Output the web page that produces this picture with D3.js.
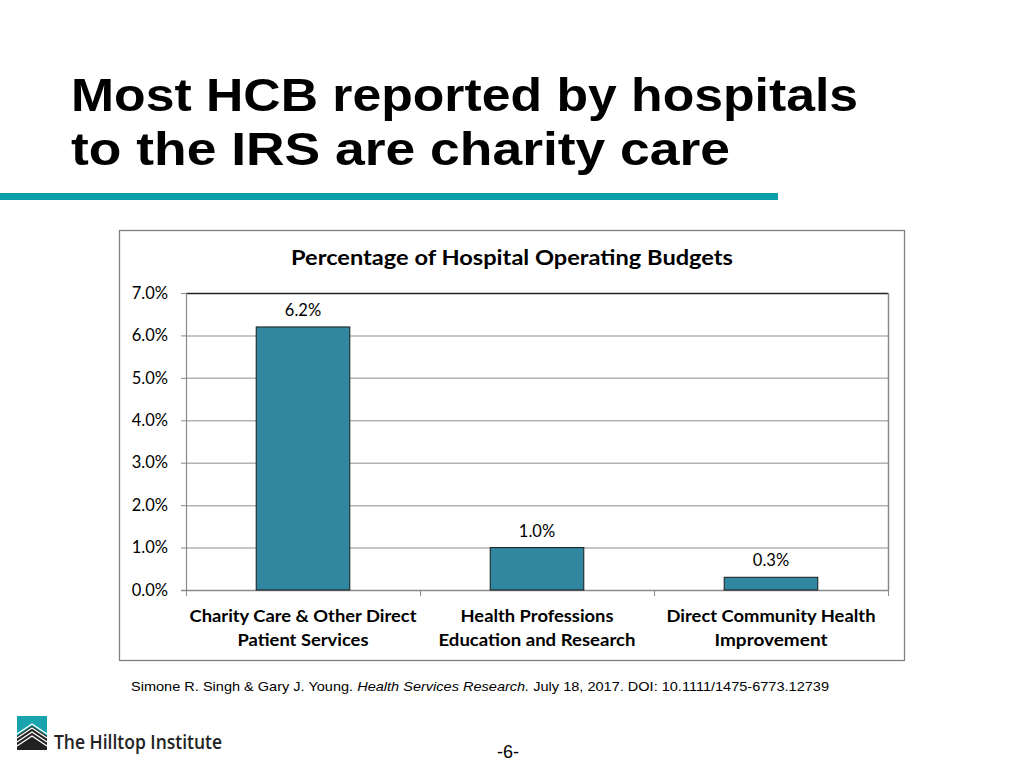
<!DOCTYPE html>
<html><head><meta charset="utf-8">
<script src="https://cdn.jsdelivr.net/npm/d3@7/dist/d3.min.js"></script>
<style>html,body{margin:0;padding:0;background:#fff;}</style>
</head><body>
<svg id="c" width="1024" height="768"></svg>
<script>
const categories = [["Charity Care & Other Direct","Patient Services"],["Health Professions","Education and Research"],["Direct Community Health","Improvement"]];
const values = [6.2, 1.0, 0.3];
const valueLabels = ["6.2%","1.0%","0.3%"];
const yTicks = [0,1,2,3,4,5,6,7];
const chartTitle = "Percentage of Hospital Operating Budgets";
const slideTitle = ["Most HCB reported by hospitals","to the IRS are charity care"];

const svg = d3.select("#c");
const cal = "Lato, 'Open Sans', sans-serif";
const catWidths = [[227,131],[153,197],[209,113]];

// slide title
svg.selectAll("text.st").data(slideTitle).join("text")
  .attr("x", 71).attr("y", (d,i)=>111+i*54)
  .attr("font-family","'Liberation Sans', Arial, sans-serif").attr("font-weight","bold")
  .attr("font-size", 47).attr("fill","#000").attr("textLength", (d,i)=> i==0?787:659)
  .attr("lengthAdjust","spacingAndGlyphs").text(d=>d);

svg.append("rect").attr("x",0).attr("y",193).attr("width",778).attr("height",7).attr("fill","#0A9EA9");

// chart box
svg.append("rect").attr("x",119.5).attr("y",230.5).attr("width",785).attr("height",430)
  .attr("fill","#fff").attr("stroke","#7f7f7f").attr("stroke-width",1.3);

svg.append("text").attr("x",512).attr("y",265).attr("text-anchor","middle")
  .attr("font-family",cal).attr("font-weight","bold").attr("font-size",20)
  .attr("textLength",442).attr("lengthAdjust","spacingAndGlyphs").text(chartTitle);

const L=186, R=888, T=293, B=590;
const x = d3.scaleBand().domain(d3.range(values.length)).range([L,R]).paddingInner(0.6).paddingOuter(0.3);
const xg = d3.scaleBand().domain(d3.range(values.length)).range([L,R]);
const y = d3.scaleLinear().domain([0,7]).range([B,T]);

// gridlines
svg.append("g").selectAll("line").data(yTicks.filter(t=>t>0)).join("line")
  .attr("x1",L).attr("x2",R).attr("y1",d=>y(d)+0.5).attr("y2",d=>y(d)+0.5)
  .attr("stroke", d=> d===7 ? "#222" : "#b3b3b3").attr("stroke-width",1.5);
svg.append("line").attr("x1",R+0.5).attr("x2",R+0.5).attr("y1",T).attr("y2",B).attr("stroke","#8a8a8a").attr("stroke-width",1.5);

// y axis
const ya = d3.axisLeft(y).tickValues(yTicks).tickFormat(d=>d.toFixed(1)+"%").tickSize(5).tickPadding(13);
const yg = svg.append("g").attr("transform",`translate(${L},0)`).call(ya);
yg.select(".domain").attr("stroke","#8a8a8a").attr("stroke-width",1.2);
yg.selectAll(".tick line").attr("stroke","#8a8a8a");
yg.selectAll("text").attr("font-family",cal).attr("font-size",16.5).attr("fill","#000");

// x axis
svg.append("line").attr("x1",L-5).attr("x2",R).attr("y1",B+0.5).attr("y2",B+0.5).attr("stroke","#8a8a8a").attr("stroke-width",1.5);
svg.append("g").selectAll("line").data([L, xg(1), xg(2), R]).join("line")
  .attr("x1",d=>d+0.5).attr("x2",d=>d+0.5).attr("y1",B).attr("y2",B+6).attr("stroke","#8a8a8a");

// bars
svg.append("g").selectAll("rect").data(values).join("rect")
  .attr("x",(d,i)=>x(i)).attr("y",d=>y(d)).attr("width",x.bandwidth()).attr("height",d=>B-y(d))
  .attr("fill","#31879F").attr("stroke","#1a1a1a").attr("stroke-width",1);

svg.append("g").selectAll("text").data(values).join("text")
  .attr("x",(d,i)=>x(i)+x.bandwidth()/2).attr("y",d=>y(d)-11)
  .attr("text-anchor","middle").attr("font-family",cal).attr("font-size",16.5).text((d,i)=>valueLabels[i]);

// category labels
const cg = svg.append("g").selectAll("text").data(categories).join("text")
  .attr("x",(d,i)=>xg(i)+xg.bandwidth()/2).attr("text-anchor","middle")
  .attr("font-family",cal).attr("font-weight","bold").attr("font-size",17.5);
cg.each(function(d,i){
  d3.select(this).selectAll("tspan").data(d).join("tspan")
    .attr("x",xg(i)+xg.bandwidth()/2)
    .attr("y",(t,j)=>622+j*24)
    .attr("textLength",(t,j)=>catWidths[i][j]).attr("lengthAdjust","spacingAndGlyphs")
    .text(t=>t);
});

// citation
const cit = svg.append("text").attr("x",131).attr("y",691).attr("font-family","'Liberation Sans', Arial, sans-serif")
  .attr("font-size",13.5).attr("textLength",698).attr("lengthAdjust","spacingAndGlyphs");
cit.append("tspan").text("Simone R. Singh & Gary J. Young. ");
cit.append("tspan").attr("font-style","italic").text("Health Services Research.");
cit.append("tspan").text("  July 18, 2017. DOI: 10.1111/1475-6773.12739");

// logo
svg.append("rect").attr("x",17).attr("y",716).attr("width",30).attr("height",20).attr("fill","#18A3AD");
svg.append("path").attr("d","M17,736 L32,726 L47,736 L47,750 L17,750 Z").attr("fill","#222");
[0,1,2,3].forEach(k=>{
  svg.append("path").attr("d",`M17,${734+k*4} L32,${724+k*4} L47,${734+k*4}`).attr("fill","none").attr("stroke","#fff").attr("stroke-width",1.4);
});
svg.append("text").attr("x",54).attr("y",749).attr("font-family","'Open Sans', sans-serif").attr("font-weight","600")
  .attr("font-size",19).attr("fill","#222").attr("textLength",168).attr("lengthAdjust","spacingAndGlyphs").text("The Hilltop Institute");

svg.append("text").attr("x",508).attr("y",758).attr("text-anchor","middle").attr("font-family","'Liberation Sans', Arial, sans-serif").attr("font-size",18).text("-6-");
</script>
</body></html>
